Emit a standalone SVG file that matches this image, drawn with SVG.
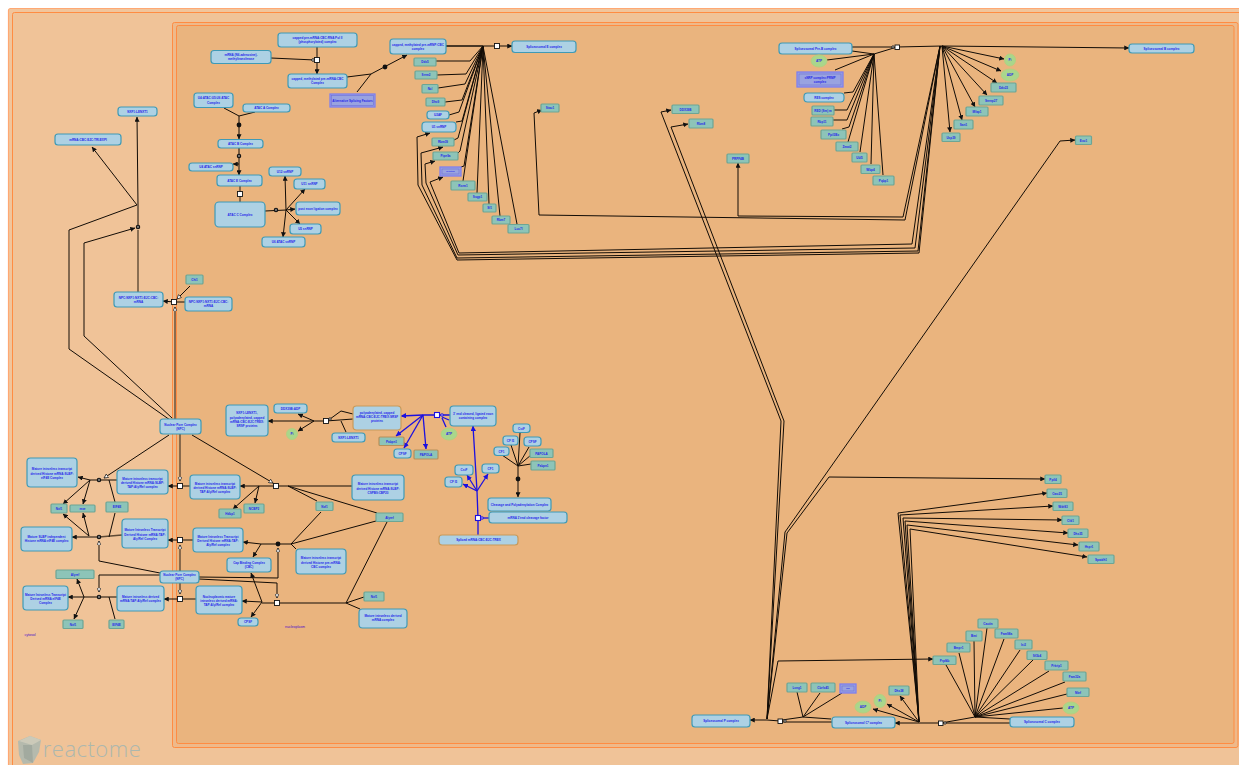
<svg xmlns="http://www.w3.org/2000/svg" width="1239" height="765" viewBox="0 0 1239 765">
<style>
.l{fill:none;stroke:#120c06;stroke-width:1;stroke-linejoin:miter}
.w{fill:none;stroke:#5e4a35;stroke-width:1.4}
.u{fill:none;stroke:#1c10e0;stroke-width:1.3}
.s{fill:#fff;stroke:#111;stroke-width:.9}
.su{fill:#fff;stroke:#1c10e0;stroke-width:1.1}
.f{fill:#111}
.r{fill:#777;stroke:#111;stroke-width:1.1}
.c{fill:#add1e4;stroke:#3f9ab6;stroke-width:1.2}
.co{fill:#add1e4;stroke:#c89a5a;stroke-width:1.2}
.p{fill:#8dc4b8;stroke:#6da594;stroke-width:1.2}
.e{fill:#a9d68c;stroke:#b5d07f;stroke-width:1}
.g{fill:#99a3e0;stroke:#7f7fee;stroke-width:1.3}
.g2{fill:none;stroke:#6f6fd8;stroke-width:.6}
text{font-family:"Liberation Sans",Arial,sans-serif;font-weight:bold;font-size:3.05px;fill:#2626ea;text-anchor:middle}
.cp{font-weight:normal;font-size:3.6px;fill:#4a10c8}
.tiny{font-size:1.5px}
</style>
<defs>
<marker id="a" viewBox="0 0 10 10" refX="9.5" refY="5" markerWidth="5" markerHeight="5" markerUnits="userSpaceOnUse" orient="auto"><path d="M0 0L10 5L0 10z" fill="#111"/></marker>
<marker id="b" viewBox="0 0 10 10" refX="9.5" refY="5" markerWidth="5.400" markerHeight="5.400" markerUnits="userSpaceOnUse" orient="auto"><path d="M0 0L10 5L0 10z" fill="#1c10e0"/></marker>
<marker id="h" viewBox="0 0 10 10" refX="9.5" refY="5" markerWidth="4.6" markerHeight="4.6" markerUnits="userSpaceOnUse" orient="auto"><path d="M0.5 .5L9.5 5L.5 9.5z" fill="#fff" stroke="#111" stroke-width="1.5"/></marker>
</defs>
<rect width="1239" height="765" fill="#fff"/>
<g id="compartments">
<rect x="8.5" y="8.5" width="1240" height="770" rx="2" fill="#f1c59c" stroke="#ffa873" stroke-width="1.2"/>
<rect x="12.5" y="12.5" width="1240" height="770" rx="2" fill="#f0c398" stroke="#ff8c42" stroke-width="1"/>
<rect x="172.5" y="22.5" width="1065.5" height="725" rx="2" fill="#eeb98a" stroke="#ff8c42" stroke-width="1"/>
<rect x="176.5" y="25.5" width="1057.5" height="718" rx="2" fill="#eab47e" stroke="#ff8c42" stroke-width="1"/>
<text class="cp" x="30" y="636">cytosol</text>
<text class="cp" x="295" y="628">nucleoplasm</text>
</g>
<g id="connectors">
<path class="l" marker-end="url(#a)" d="M317 47V74"/>
<path class="l" d="M271 58L315 60"/>
<path class="l" d="M347 77L371 74M357 92L371 74"/>
<path class="l" marker-end="url(#a)" d="M371 74L407 55"/>
<path class="w" d="M446 46H483"/>
<path class="l" d="M446 46H497"/>
<path class="l" marker-end="url(#a)" d="M497 46H512"/>
<path class="l" d="M436 61H470L483 46M437 75L466 74L483 46M438 88L465 84L483 46M445 102L462 100L483 46M449 115L459 112L483 46M456 122L462 121L483 46M454 140L458 138L483 46M458 153L460 151L483 46M461 167L464 166L483 46M463 181L483 46M477 193L483 46M489 204L483 46M500 216L483 46M517 224L483 46"/>
<path class="l" marker-end="url(#a)" d="M940 46L919 253L457 260L418 185L417 137L430 133"/>
<path class="l" marker-end="url(#a)" d="M940 46L918 251L457 258L422 185L421 153L443 147"/>
<path class="l" marker-end="url(#a)" d="M940 46L915 248L458 255L426 183L425 164L435 161"/>
<path class="l" marker-end="url(#a)" d="M940 46L912 244L459 253L430 182L443 177"/>
<path class="l" marker-end="url(#a)" d="M940 46L905 220L539 215L534 113L542 110"/>
<path class="l" marker-end="url(#a)" d="M940 46L903 217L738 216V163"/>
<path class="l" d="M852 47H893M852 51L874 54M827 60L874 54M835 70L874 54M844 93L853 92L874 54M834 110H847L874 54M833 120H847L874 54M842 129L849 127L874 54M848 142L874 54M860 152L874 54M871 164L874 54M883 175L874 54"/>
<path class="l" d="M874 54L897 47M897 47L942 46"/>
<path class="l" marker-end="url(#a)" d="M942 46L1129 48"/>
<path class="l" marker-end="url(#a)" d="M942 46L1004 59"/>
<path class="l" marker-end="url(#a)" d="M942 46L1001 71"/>
<path class="l" marker-end="url(#a)" d="M942 46L997 83"/>
<path class="l" marker-end="url(#a)" d="M942 46L987 95"/>
<path class="l" marker-end="url(#a)" d="M942 46L975 107"/>
<path class="l" marker-end="url(#a)" d="M942 46L962 120"/>
<path class="l" marker-end="url(#a)" d="M942 46L950 132"/>
<path class="l" marker-end="url(#a)" d="M767 719L781 421L661 112L671 110"/>
<path class="l" marker-end="url(#a)" d="M767 719L784 421L671 127L688 124"/>
<path class="l" marker-end="url(#a)" d="M767 719L785 532L1060 141L1075 140"/>
<path class="l" marker-end="url(#a)" d="M767 719L787 533L829 477L1045 479"/>
<path class="l" marker-end="url(#a)" d="M767 719L778 661L933 659"/>
<path class="l" marker-end="url(#a)" d="M919 722L898 513L1047 493"/>
<path class="l" marker-end="url(#a)" d="M919 722L900 515L1053 506"/>
<path class="l" marker-end="url(#a)" d="M919 722L903 518L1062 520"/>
<path class="l" marker-end="url(#a)" d="M919 722L905 521L1068 533"/>
<path class="l" marker-end="url(#a)" d="M919 722L907 525L1078 545"/>
<path class="l" marker-end="url(#a)" d="M919 722L910 529L1087 557"/>
<path class="l" d="M946 665L975 717M959 653L975 717M974 641L975 717M987 628L975 717M1004 639L975 717M1020 650L975 717M1033 660L975 717M1049 671L975 717M1065 682L975 717M1067 694L975 717M1063 708L975 717M1010 719L975 717M975 717L941 723M1010 723H941"/>
<path class="l" marker-end="url(#a)" d="M941 723H919L895 723"/>
<path class="l" marker-end="url(#a)" d="M919 722L873 709"/>
<path class="l" marker-end="url(#a)" d="M919 722L887 704"/>
<path class="l" marker-end="url(#a)" d="M919 722L900 696"/>
<path class="l" d="M832 722H782M831 719L803 717M797 692L803 717M820 693L803 717M842 693L803 717M803 717L782 720"/>
<path class="l" marker-end="url(#a)" d="M780 721L767 720H750"/>
<path class="l" d="M224 108L239 116M255 112L239 116"/>
<path class="l" marker-end="url(#a)" d="M239 116V139"/>
<path class="l" marker-end="url(#a)" d="M239 148V175"/>
<path class="l" marker-end="url(#a)" d="M239 164H233"/>
<path class="w" d="M240 186V202"/>
<path class="l" d="M265 211L286 210"/>
<path class="l" marker-end="url(#a)" d="M286 210L285 176"/>
<path class="l" marker-end="url(#a)" d="M286 210L305 189"/>
<path class="l" marker-end="url(#a)" d="M286 210L295 209"/>
<path class="l" marker-end="url(#a)" d="M286 210L300 224"/>
<path class="l" marker-end="url(#a)" d="M286 210L283 237"/>
<path class="w" d="M138 292V230"/>
<path class="l" marker-end="url(#a)" d="M138 225V205L137 117"/>
<path class="l" marker-end="url(#a)" d="M137 205L92 147"/>
<path class="l" d="M137 205L69 230V349L170 420"/>
<path class="l" marker-end="url(#a)" d="M84 336V243L135 228"/>
<path class="l" d="M84 336L172 418"/>
<path class="l" marker-end="url(#a)" d="M174 302L163 301"/>
<path class="l" d="M185 302H174"/>
<path class="l" marker-end="url(#h)" d="M190 286L177 299"/>
<path class="w" marker-end="url(#h)" d="M175 419V307"/>
<path class="w" marker-end="url(#h)" d="M180 434V481"/>
<path class="w" d="M190 486H180M193 540H180M196 599H180"/>
<path class="l" marker-end="url(#a)" d="M180 486H168"/>
<path class="l" marker-end="url(#a)" d="M180 540H168"/>
<path class="l" marker-end="url(#a)" d="M180 599H164"/>
<path class="w" marker-end="url(#h)" d="M180 571V545"/>
<path class="w" marker-end="url(#h)" d="M180 583V594"/>
<path class="w" d="M117 480H90M122 535L99 537M117 597H84"/>
<path class="l" marker-end="url(#a)" d="M90 480L78 477"/>
<path class="l" marker-end="url(#a)" d="M90 480L63 504"/>
<path class="l" marker-end="url(#a)" d="M90 480L83 504"/>
<path class="l" d="M115 502L109 480M115 513L109 537"/>
<path class="l" marker-end="url(#h)" d="M169 435L104 478"/>
<path class="l" marker-end="url(#a)" d="M99 537H89L72 537"/>
<path class="l" marker-end="url(#a)" d="M89 536L63 514"/>
<path class="l" marker-end="url(#a)" d="M89 536L83 513"/>
<path class="l" marker-end="url(#h)" d="M160 573L99 561V541"/>
<path class="l" marker-end="url(#a)" d="M84 597H68"/>
<path class="l" marker-end="url(#a)" d="M84 597L77 579"/>
<path class="l" marker-end="url(#a)" d="M84 597L74 619"/>
<path class="l" d="M115 619L109 597"/>
<path class="l" marker-end="url(#h)" d="M160 575H99V592"/>
<path class="l" marker-end="url(#a)" d="M326 421H314L268 421"/>
<path class="l" marker-end="url(#a)" d="M314 421L298 414"/>
<path class="l" marker-end="url(#a)" d="M314 421L298 431"/>
<path class="l" d="M353 419L326 421M330 419L341 411L353 414M341 421L346 432"/>
<path class="l" marker-end="url(#a)" d="M352 486H259L240 486"/>
<path class="l" marker-end="url(#a)" d="M259 486L233 509"/>
<path class="l" marker-end="url(#a)" d="M259 486L255 503"/>
<path class="l" d="M288 486L317 501M288 486L377 513"/>
<path class="l" marker-end="url(#h)" d="M192 435L273 483"/>
<path class="l" d="M296 549L291 544H261M321 512L291 544M376 521L291 544"/>
<path class="l" marker-end="url(#a)" d="M261 544L243 542"/>
<path class="l" marker-end="url(#a)" d="M261 544L253 557"/>
<path class="l" marker-end="url(#h)" d="M199 577L278 578V548"/>
<path class="l" marker-end="url(#h)" d="M199 579L277 583V598"/>
<path class="l" d="M360 609L346 603H262M364 597L346 603M387 522L346 603"/>
<path class="l" marker-end="url(#a)" d="M262 602L242 601"/>
<path class="l" marker-end="url(#a)" d="M262 602L251 573"/>
<path class="l" marker-end="url(#a)" d="M262 602L251 617"/>
<path class="u" marker-end="url(#b)" d="M437 415H423L401 416"/>
<path class="u" marker-end="url(#b)" d="M423 415L396 436"/>
<path class="u" marker-end="url(#b)" d="M423 415L404 448"/>
<path class="u" marker-end="url(#b)" d="M423 415L426 449"/>
<path class="u" d="M450 415H437M449 420L442 417M446 427L442 418"/>
<path class="u" marker-end="url(#b)" d="M478 535V518L477 491L473 426"/>
<path class="u" d="M489 518H478"/>
<path class="u" marker-end="url(#b)" d="M477 491L467 475"/>
<path class="u" marker-end="url(#b)" d="M477 491L463 484"/>
<path class="u" marker-end="url(#b)" d="M477 491L488 474"/>
<path class="l" d="M520 433L518 466M511 445L518 466M529 447L518 466M502 455L518 466M531 455L518 466M531 464L518 466"/>
<path class="l" marker-end="url(#a)" d="M518 466V497"/>
<g>
<rect class="s" x="314.5" y="57.5" width="5" height="5"/><circle class="s" cx="313" cy="60" r="1.3"/>
<circle class="f" cx="385" cy="67" r="2.4"/>
<rect class="s" x="494.5" y="43.5" width="5" height="5"/>
<rect class="s" x="895" y="45" width="4.5" height="4.5"/><circle class="s" cx="893" cy="47" r="1.2"/>
<rect class="s" x="938.5" y="721" width="4.5" height="4.5"/><circle class="s" cx="945" cy="723" r="1.2"/>
<rect class="s" x="778" y="719" width="4.5" height="4.5"/><circle class="s" cx="785" cy="721" r="1.2"/>
<circle class="f" cx="239" cy="125" r="2.4"/><circle class="r" cx="239" cy="156" r="1.7"/>
<rect class="s" x="237.5" y="191.5" width="5" height="5"/><circle class="r" cx="276" cy="210" r="1.7"/>
<circle class="r" cx="138" cy="227" r="1.7"/>
<rect class="s" x="171.5" y="299.5" width="5" height="5"/>
<rect class="s" x="177.5" y="483.5" width="5" height="5"/><rect class="s" x="177.5" y="537.5" width="5" height="5"/><rect class="s" x="177.5" y="596.5" width="5" height="5"/>
<circle class="r" cx="99" cy="480" r="1.7"/><circle class="r" cx="99" cy="537" r="1.7"/><circle class="r" cx="99" cy="597" r="1.7"/>
<rect class="s" x="323.5" y="418.5" width="5" height="5"/><circle class="s" cx="330" cy="419" r="1.2"/>
<rect class="s" x="273.5" y="483.5" width="5" height="5"/><circle class="f" cx="278" cy="544" r="2.4"/><rect class="s" x="274.5" y="600.5" width="5" height="5"/>
<rect class="su" x="434.5" y="412.5" width="5" height="5"/><circle class="su" cx="442" cy="415" r="1.2"/>
<rect class="su" x="475.5" y="515.5" width="5" height="5"/><circle class="su" cx="482" cy="518" r="1.2"/>
<circle class="f" cx="518" cy="479" r="2.4"/>
</g>
</g>
<g id="nodes">
<g id="n1"><rect class="c" x="278" y="33" width="79" height="14" rx="3"/><text x="317.5" y="39.1">capped pre-mRNA:CBC:RNA Pol II</text><text x="317.5" y="43.3">(phosphorylated) complex</text></g>
<g id="n2"><rect class="c" x="211" y="50.500" width="60" height="13" rx="3"/><text x="241" y="56.1">mRNA (N6-adenosine)-</text><text x="241" y="60.3">methyltransferase</text></g>
<g id="n3"><rect class="c" x="288" y="74" width="59" height="14" rx="3"/><text x="317.5" y="80.1">capped, methylated pre-mRNA:CBC</text><text x="317.5" y="84.3">Complex</text></g>
<g id="n4"><rect class="g" x="330" y="94" width="45" height="13"/><rect class="g2" x="331.500" y="95.500" width="42" height="10"/><text x="352.500" y="101.700">Alternative Splicing Factors</text></g>
<g id="n5"><rect class="c" x="390" y="39" width="56" height="15" rx="3"/><text x="418" y="45.600">capped, methylated pre-mRNP:CBC</text><text x="418" y="49.800">complex</text></g>
<g id="n6"><rect class="c" x="512" y="41" width="64" height="11.500" rx="3"/><text x="544" y="48">Spliceosomal E complex</text></g>
<g id="n7"><rect class="p" x="414" y="58" width="22" height="8" rx="1"/><text x="425" y="63.200">Ddx5</text></g>
<g id="n8"><rect class="p" x="415" y="71" width="22" height="8" rx="1"/><text x="426" y="76.200">Srrm2</text></g>
<g id="n9"><rect class="p" x="422" y="84.500" width="16" height="8.500" rx="1"/><text x="430" y="90">Ncl</text></g>
<g id="n10"><rect class="p" x="426" y="98" width="19" height="8" rx="1"/><text x="435.500" y="103.200">Dhx9</text></g>
<g id="n11"><rect class="c" x="427" y="111" width="22" height="8" rx="3"/><text x="438" y="116.200">U2AF</text></g>
<g id="n12"><rect class="c" x="422" y="122" width="34" height="10" rx="3.500"/><text x="439" y="128.200">U1 snRNP</text></g>
<g id="n13"><rect class="p" x="432" y="138" width="22" height="8" rx="1"/><text x="443" y="143.200">Rbm39</text></g>
<g id="n14"><rect class="p" x="433" y="152" width="25" height="8" rx="1"/><text x="445.500" y="157.200">Ptpn9a</text></g>
<g id="n15"><rect class="g" x="440" y="167" width="21" height="9"/><rect class="g2" x="442" y="169" width="17" height="5"/><text class="tiny" x="450.500" y="172">SR proteins</text></g>
<g id="n16"><rect class="p" x="451" y="181" width="24" height="9" rx="1"/><text x="463" y="186.700">Rsrm1</text></g>
<g id="n17"><rect class="p" x="468" y="193" width="19" height="8" rx="1"/><text x="477.500" y="198.200">Sugp1</text></g>
<g id="n18"><rect class="p" x="483" y="204" width="13" height="8" rx="1"/><text x="489.500" y="209.200">Sf1</text></g>
<g id="n19"><rect class="p" x="492" y="216" width="18" height="8" rx="1"/><text x="501" y="221.200">Rbm7</text></g>
<g id="n20"><rect class="p" x="508" y="224.500" width="21" height="8.500" rx="1"/><text x="518.500" y="230">Luc7l</text></g>
<g id="n21"><rect class="p" x="541" y="104" width="18" height="8" rx="1"/><text x="550" y="109.200">Stau1</text></g>
<g id="n22"><rect class="c" x="194" y="93" width="39" height="14.500" rx="3"/><text x="213.500" y="99.300">U4:ATAC:U5:U6 ATAC</text><text x="213.500" y="103.500">Complex</text></g>
<g id="n23"><rect class="c" x="243" y="104" width="47" height="8" rx="3"/><text x="266.500" y="109.200">ATAC A Complex</text></g>
<g id="n24"><rect class="c" x="218" y="139.500" width="45" height="8.500" rx="3"/><text x="240.500" y="145">ATAC B Complex</text></g>
<g id="n25"><rect class="c" x="189" y="163" width="44" height="8" rx="3"/><text x="211" y="168.200">U4 ATAC snRNP</text></g>
<g id="n26"><rect class="c" x="217" y="175" width="45" height="11" rx="3"/><text x="239.500" y="181.700">ATAC E Complex</text></g>
<g id="n27"><rect class="c" x="215" y="202" width="50" height="25" rx="4"/><text x="240" y="215.700">ATAC C Complex</text></g>
<g id="n28"><rect class="c" x="269" y="167" width="32" height="9" rx="3"/><text x="285" y="172.700">U12 snRNP</text></g>
<g id="n29"><rect class="c" x="294" y="179" width="31" height="10" rx="3"/><text x="309.500" y="185.200">U11 snRNP</text></g>
<g id="n30"><rect class="c" x="296" y="202" width="44" height="13" rx="3"/><text x="318" y="209.700">post exon ligation complex</text></g>
<g id="n31"><rect class="c" x="290" y="224" width="31" height="10" rx="3"/><text x="305.500" y="230.200">U5 snRNP</text></g>
<g id="n32"><rect class="c" x="262" y="237" width="43" height="10" rx="3"/><text x="283.500" y="243.200">U6 ATAC snRNP</text></g>
<g id="n33"><rect class="c" x="779" y="43" width="73" height="11" rx="3"/><text x="815.500" y="49.700">Spliceosomal Pre-B complex</text></g>
<g id="n34"><ellipse class="e" cx="819" cy="61" rx="8" ry="6"/><text x="819" y="62.200">ATP</text></g>
<g id="n35"><rect class="g" x="797" y="72" width="46" height="15"/><rect class="g2" x="799" y="74" width="42" height="11"/><text x="820" y="78.600">sNRP complex:PRMP</text><text x="820" y="82.800">complex</text></g>
<g id="n36"><rect class="c" x="804" y="93" width="40" height="9" rx="3.500"/><text x="824" y="98.700">RES complex</text></g>
<g id="n37"><rect class="p" x="812" y="106" width="22" height="9" rx="1"/><text x="823" y="111.700">RED (Sm) m</text></g>
<g id="n38"><rect class="p" x="811" y="117" width="22" height="9" rx="1"/><text x="822" y="122.700">Rbp11</text></g>
<g id="n39"><rect class="p" x="821" y="130" width="25" height="9" rx="1"/><text x="833.500" y="135.700">Ppil3Bx</text></g>
<g id="n40"><rect class="p" x="836" y="142" width="22" height="9" rx="1"/><text x="847" y="147.700">Zmat2</text></g>
<g id="n41"><rect class="p" x="852" y="153" width="15" height="9" rx="1"/><text x="859.500" y="158.700">Ubl5</text></g>
<g id="n42"><rect class="p" x="861" y="165" width="19" height="8.500" rx="1"/><text x="870.500" y="170.500">Wbp4</text></g>
<g id="n43"><rect class="p" x="873" y="176" width="21" height="9" rx="1"/><text x="883.500" y="181.700">Pqbp1</text></g>
<g id="n44"><rect class="c" x="1129" y="44" width="65" height="9" rx="3"/><text x="1161.500" y="49.700">Spliceosomal B complex</text></g>
<g id="n45"><ellipse class="e" cx="1010" cy="60" rx="5.500" ry="6"/><text x="1010" y="61.200">Pi</text></g>
<g id="n46"><ellipse class="e" cx="1010" cy="75" rx="9" ry="6"/><text x="1010" y="76.200">ADP</text></g>
<g id="n47"><rect class="p" x="991" y="83" width="25" height="9" rx="1"/><text x="1003.500" y="88.700">Ddx23</text></g>
<g id="n48"><rect class="p" x="979" y="96" width="24" height="9" rx="1"/><text x="991" y="101.700">Snrnp27</text></g>
<g id="n49"><rect class="p" x="966" y="107" width="22" height="9" rx="1"/><text x="977" y="112.700">Mfap1</text></g>
<g id="n50"><rect class="p" x="954" y="120" width="19" height="9" rx="1"/><text x="963.500" y="125.700">Sart1</text></g>
<g id="n51"><rect class="p" x="942" y="133" width="18" height="8.500" rx="1"/><text x="951" y="138.500">Usp39</text></g>
<g id="n52"><rect class="p" x="672" y="105" width="27" height="8.500" rx="1"/><text x="685.500" y="110.500">DDX39B</text></g>
<g id="n53"><rect class="p" x="689" y="119" width="24" height="9" rx="1"/><text x="701" y="124.700">Rbm8</text></g>
<g id="n54"><rect class="p" x="727" y="154" width="22" height="9" rx="1"/><text x="738" y="159.700">PRPF4B</text></g>
<g id="n55"><rect class="p" x="1075.500" y="136" width="16" height="8.500" rx="1"/><text x="1083.500" y="141.500">Exo1</text></g>
<g id="n56"><rect class="p" x="1045" y="475" width="16" height="8.500" rx="1"/><text x="1053" y="480.500">Ppil4</text></g>
<g id="n57"><rect class="p" x="1047" y="489" width="20" height="8.500" rx="1"/><text x="1057" y="494.500">Cwc25</text></g>
<g id="n58"><rect class="p" x="1053" y="502" width="20" height="8.500" rx="1"/><text x="1063" y="507.500">Wdr83</text></g>
<g id="n59"><rect class="p" x="1062" y="516" width="17" height="8.500" rx="1"/><text x="1070.500" y="521.500">Cfd1</text></g>
<g id="n60"><rect class="p" x="1068" y="529" width="20" height="8.500" rx="1"/><text x="1078" y="534.500">Dhx35</text></g>
<g id="n61"><rect class="p" x="1079" y="542" width="20" height="9" rx="1"/><text x="1089" y="547.700">Hspr1</text></g>
<g id="n62"><rect class="p" x="1088" y="555" width="26" height="8.500" rx="1"/><text x="1101" y="560.500">Spatdh1</text></g>
<g id="n63"><rect class="c" x="692" y="715" width="58" height="12" rx="3"/><text x="721" y="722.200">Spliceosomal P complex</text></g>
<g id="n64"><rect class="c" x="832" y="717" width="63" height="11" rx="3"/><text x="863.500" y="723.700">Spliceosomal C* complex</text></g>
<g id="n65"><rect class="c" x="1010" y="717" width="64" height="10" rx="3"/><text x="1042" y="723.200">Spliceosomal C complex</text></g>
<g id="n66"><rect class="p" x="787" y="683" width="20" height="9" rx="1"/><text x="797" y="688.700">Lsng1</text></g>
<g id="n67"><rect class="p" x="811" y="683" width="24" height="9" rx="1"/><text x="823" y="688.700">Cbrfx45</text></g>
<g id="n68"><rect class="g" x="840" y="684" width="16" height="9"/><rect class="g2" x="842" y="686" width="12" height="5"/><text class="tiny" x="848" y="689">Sf3b</text></g>
<g id="n69"><ellipse class="e" cx="863" cy="707" rx="8" ry="6"/><text x="863" y="708.200">ADP</text></g>
<g id="n70"><ellipse class="e" cx="880" cy="701" rx="6" ry="6.500"/><text x="880" y="702.200">Pi</text></g>
<g id="n71"><rect class="p" x="889" y="686" width="20" height="9" rx="1"/><text x="899" y="691.700">Dhx38</text></g>
<g id="n72"><rect class="p" x="933" y="656" width="23" height="8.500" rx="1"/><text x="944.500" y="661.500">Prpf4b</text></g>
<g id="n73"><rect class="p" x="947" y="643" width="23" height="9" rx="1"/><text x="958.500" y="648.700">Bmpr1</text></g>
<g id="n74"><rect class="p" x="966" y="631" width="16" height="10" rx="1"/><text x="974" y="637.200">Bmi</text></g>
<g id="n75"><rect class="p" x="978" y="619" width="20" height="9" rx="1"/><text x="988" y="624.700">Cactin</text></g>
<g id="n76"><rect class="p" x="995" y="629" width="23" height="9" rx="1"/><text x="1006.500" y="634.700">Fam98a</text></g>
<g id="n77"><rect class="p" x="1015" y="640" width="17" height="9" rx="1"/><text x="1023.500" y="645.700">Isi2</text></g>
<g id="n78"><rect class="p" x="1027" y="651" width="20" height="8.500" rx="1"/><text x="1037" y="656.500">Sf3b4</text></g>
<g id="n79"><rect class="p" x="1045" y="661" width="23" height="9" rx="1"/><text x="1056.500" y="666.700">Prkrip1</text></g>
<g id="n80"><rect class="p" x="1063" y="672" width="23" height="9" rx="1"/><text x="1074.500" y="677.700">Fam32a</text></g>
<g id="n81"><rect class="p" x="1067" y="688" width="22" height="8.500" rx="1"/><text x="1078" y="693.500">Nkrf</text></g>
<g id="n82"><ellipse class="e" cx="1071" cy="708" rx="8" ry="6"/><text x="1071" y="709.200">ATP</text></g>
<g id="n83"><rect class="c" x="118" y="107" width="39" height="9" rx="3"/><text x="137.500" y="112.700">NXF1:LENXT1</text></g>
<g id="n84"><rect class="c" x="55" y="134" width="66" height="11" rx="3"/><text x="88" y="140.700">mRNA:CBC:EJC:TRI.EXPI</text></g>
<g id="n85"><rect class="c" x="114" y="292" width="49" height="15" rx="3"/><text x="138.500" y="298.600">NPC:NXF1:NXT1:EJC:CBC:</text><text x="138.500" y="302.800">mRNA</text></g>
<g id="n86"><rect class="c" x="185" y="297" width="47" height="14" rx="3"/><text x="208.500" y="303.100">NPC:NXF1:NXT1:EJC:CBC:</text><text x="208.500" y="307.300">mRNA</text></g>
<g id="n87"><rect class="p" x="186" y="275" width="17" height="9" rx="1"/><text x="194.500" y="280.700">Chi1</text></g>
<g id="n88"><rect class="c" x="160" y="419" width="41" height="15" rx="3"/><text x="180.500" y="425.600">Nuclear Pore Complex</text><text x="180.500" y="429.800">(NPC)</text></g>
<g id="n89"><rect class="c" x="27" y="458" width="50" height="29" rx="3.500"/><text x="52" y="470.400">Mature intronless transcript</text><text x="52" y="474.600">derived Histone mRNA:SLBP:</text><text x="52" y="478.800">eIF4E Complex</text></g>
<g id="n90"><rect class="c" x="117" y="470" width="51" height="24" rx="3.500"/><text x="142.500" y="479.900">Mature intronless transcript</text><text x="142.500" y="484.100">derived Histone mRNA:SLBP:</text><text x="142.500" y="488.300">TAP:Aly/Ref complex</text></g>
<g id="n91"><rect class="p" x="51" y="504" width="16" height="9" rx="1"/><text x="59" y="509.700">Nxf1</text></g>
<g id="n92"><rect class="p" x="70" y="505" width="25" height="7" rx="1"/><text x="82.500" y="509.700">mxe</text></g>
<g id="n93"><rect class="p" x="106" y="502" width="22" height="10" rx="1"/><text x="117" y="508.200">EIF4E</text></g>
<g id="n94"><rect class="c" x="21" y="527" width="51" height="24" rx="3.500"/><text x="46.500" y="538.100">Mature SLBP independent</text><text x="46.500" y="542.300">Histone mRNA:eIF4E complex</text></g>
<g id="n95"><rect class="c" x="122" y="519" width="46" height="29" rx="3.500"/><text x="145" y="531.400">Mature Intronless Transcript</text><text x="145" y="535.600">Derived Histone mRNA:TAP:</text><text x="145" y="539.800">Aly/Ref Complex</text></g>
<g id="n96"><rect class="c" x="160" y="571" width="39" height="12" rx="3"/><text x="179.500" y="576.100">Nuclear Pore Complex</text><text x="179.500" y="580.300">(NPC)</text></g>
<g id="n97"><rect class="p" x="56" y="570" width="38" height="8.500" rx="1"/><text x="75" y="575.500">Alyref</text></g>
<g id="n98"><rect class="c" x="23" y="586" width="45" height="24" rx="3.500"/><text x="45.500" y="595.900">Mature Intronless Transcript</text><text x="45.500" y="600.100">Derived mRNA:eIF4E</text><text x="45.500" y="604.300">Complex</text></g>
<g id="n99"><rect class="c" x="117" y="586" width="47" height="25" rx="3.500"/><text x="140.500" y="597.600">Mature intronless derived</text><text x="140.500" y="601.800">mRNA:TAP:Aly/Ref complex</text></g>
<g id="n100"><rect class="p" x="63" y="620" width="20" height="8.500" rx="1"/><text x="73" y="625.500">Nxf1</text></g>
<g id="n101"><rect class="p" x="109" y="620" width="15" height="8.500" rx="1"/><text x="116.500" y="625.500">EIF4E</text></g>
<g id="n102"><rect class="c" x="226" y="405" width="42" height="31" rx="3.500"/><text x="247" y="414.300">NXF1:LENXT1,</text><text x="247" y="418.500">polyadenylated, capped</text><text x="247" y="422.700">mRNA:CBC:EJC:TREX:</text><text x="247" y="426.900">SRSF proteins</text></g>
<g id="n103"><rect class="c" x="274" y="404" width="33" height="9" rx="3"/><text x="290.500" y="409.700">DDX39B:ADP</text></g>
<g id="n104"><ellipse class="e" cx="292" cy="434" rx="5.500" ry="5.500"/><text x="292" y="435.200">Pi</text></g>
<g id="n105"><rect class="co" x="353" y="406" width="48" height="24" rx="3.500"/><text x="377" y="413.900">polyadenylated, capped</text><text x="377" y="418.100">mRNA:CBC:EJC:TREX:SRSF</text><text x="377" y="422.300">proteins</text></g>
<g id="n106"><rect class="c" x="332" y="433" width="33" height="9" rx="3"/><text x="348.500" y="438.700">NXF1:LENXT1</text></g>
<g id="n107"><rect class="p" x="379" y="437" width="25" height="8.500" rx="1" style="stroke:#b5905a"/><text x="391.500" y="442.500">Pabpn1</text></g>
<g id="n108"><rect class="c" x="394" y="449" width="17" height="9" rx="3"/><text x="402.500" y="454.700">CPSF</text></g>
<g id="n109"><rect class="p" x="414" y="450" width="24" height="9" rx="1" style="stroke:#b5905a"/><text x="426" y="455.700">PAPOLA</text></g>
<g id="n110"><rect class="co" x="450" y="406" width="46" height="20" rx="3.500" style="stroke:#3f9ab6"/><text x="473" y="414.600">3' end cleaved, ligated exon</text><text x="473" y="418.800">containing complex</text></g>
<g id="n111"><ellipse class="e" cx="449" cy="434" rx="8" ry="6"/><text x="449" y="435.200">ATP</text></g>
<g id="n112"><rect class="c" x="513" y="424" width="17" height="8.500" rx="3"/><text x="521.500" y="429.500">CstF</text></g>
<g id="n113"><rect class="c" x="503" y="436" width="15" height="9" rx="3"/><text x="510.500" y="441.700">CF I5</text></g>
<g id="n114"><rect class="c" x="524" y="437" width="17" height="9" rx="3"/><text x="532.500" y="442.700">CPSF</text></g>
<g id="n115"><rect class="c" x="494" y="447" width="15" height="8.500" rx="3"/><text x="501.500" y="452.500">CF1</text></g>
<g id="n116"><rect class="p" x="530" y="449" width="23" height="8.500" rx="1"/><text x="541.500" y="454.500">PAPOLA</text></g>
<g id="n117"><rect class="p" x="531" y="461" width="24" height="9" rx="1"/><text x="543" y="466.700">Pabpn1</text></g>
<g id="n118"><rect class="co" x="455" y="465" width="18" height="10" rx="3" style="stroke:#3f9ab6"/><text x="464" y="471.200">CstF</text></g>
<g id="n119"><rect class="co" x="445" y="477" width="17" height="10" rx="3" style="stroke:#3f9ab6"/><text x="453.500" y="483.200">CF I5</text></g>
<g id="n120"><rect class="co" x="482" y="464" width="17" height="9" rx="3" style="stroke:#3f9ab6"/><text x="490.500" y="469.700">CF1</text></g>
<g id="n121"><rect class="c" x="488" y="498" width="63" height="13" rx="3"/><text x="519.500" y="505.700">Cleavage and Polyadenylation Complex</text></g>
<g id="n122"><rect class="co" x="489" y="512" width="78" height="11" rx="3" style="stroke:#3f9ab6"/><text x="528" y="518.700">mRNA 3'end cleavage factor</text></g>
<g id="n123"><rect class="co" x="439" y="535" width="79" height="10" rx="3"/><text x="478.500" y="541.200">Spliced mRNA:CBC:EJC:TREX</text></g>
<g id="n124"><rect class="c" x="190" y="475" width="50" height="24" rx="3.500"/><text x="215" y="484.900">Mature intronless transcript</text><text x="215" y="489.100">derived Histone mRNA:SLBP:</text><text x="215" y="493.300">TAP:Aly/Ref complex</text></g>
<g id="n125"><rect class="c" x="352" y="475" width="52" height="25" rx="3.500"/><text x="378" y="485.400">Mature intronless transcript</text><text x="378" y="489.600">derived Histone mRNA:SLBP:</text><text x="378" y="493.800">CSPB9:CBP20</text></g>
<g id="n126"><rect class="p" x="219" y="509" width="22" height="9" rx="1"/><text x="230" y="514.700">Hdbp1</text></g>
<g id="n127"><rect class="p" x="244" y="504" width="20" height="9" rx="1"/><text x="254" y="509.700">NCBP2</text></g>
<g id="n128"><rect class="p" x="316" y="502" width="17" height="8.500" rx="1"/><text x="324.500" y="507.500">Nxf1</text></g>
<g id="n129"><rect class="p" x="376" y="513" width="27" height="8.500" rx="1"/><text x="389.500" y="518.500">Alyref</text></g>
<g id="n130"><rect class="c" x="193" y="528" width="50" height="24" rx="3.500"/><text x="218" y="537.900">Mature Intronless Transcript</text><text x="218" y="542.100">Derived Histone mRNA:TAP:</text><text x="218" y="546.300">Aly/Ref complex</text></g>
<g id="n131"><rect class="c" x="296" y="549" width="50" height="25" rx="3.500"/><text x="321" y="559.400">Mature intronless transcript</text><text x="321" y="563.600">derived Histone pre-mRNA:</text><text x="321" y="567.800">CBC complex</text></g>
<g id="n132"><rect class="c" x="227" y="558" width="44" height="14" rx="3"/><text x="249" y="564.100">Cap Binding Complex</text><text x="249" y="568.300">(CBC)</text></g>
<g id="n133"><rect class="c" x="196" y="586" width="46" height="28" rx="3.500"/><text x="219" y="597.900">Nucleoplasmic mature</text><text x="219" y="602.100">intronless derived mRNA:</text><text x="219" y="606.300">TAP:Aly/Ref complex</text></g>
<g id="n134"><rect class="p" x="364" y="592" width="20" height="9" rx="1"/><text x="374" y="597.700">Nxf1</text></g>
<g id="n135"><rect class="c" x="359" y="609" width="48" height="19" rx="3.500"/><text x="383" y="617.100">Mature intronless derived</text><text x="383" y="621.300">mRNA complex</text></g>
<g id="n136"><rect class="c" x="238" y="618" width="20" height="8" rx="3"/><text x="248" y="623.200">CPSF</text></g>
</g>
<g id="logo" opacity=".6">
<path d="M18 741L30 736L41 740L39 752L33 763L23 764L19 755z" fill="#8fb5bc"/>
<path d="M30 736L41 740L32 745L19 741z" fill="#b5d0d0"/><path d="M32 745L33 763L24 758L23 745z" fill="#6f9aa4"/>
<text x="92" y="757" style="font-family:'Open Sans',sans-serif;font-size:22px;font-weight:300;fill:#7fb0bd;letter-spacing:.5px">reactome</text>
</g>
</svg>
